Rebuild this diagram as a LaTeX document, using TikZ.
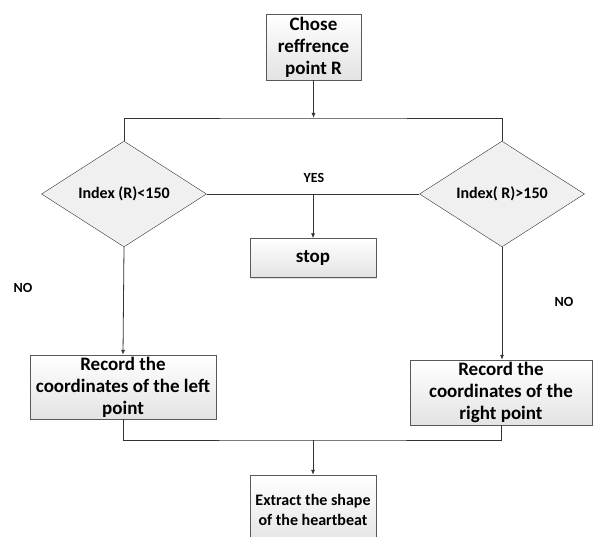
\documentclass[tikz,border=0pt]{standalone}
\usepackage{fontspec}
\setmainfont{Carlito}
\usetikzlibrary{shapes.geometric,arrows.meta,shadows}

\tikzset{
  box/.style={rectangle, draw=gray!70!black, thin, top color=white, bottom color=gray!22,
    drop shadow={shadow xshift=1.2pt, shadow yshift=-1.2pt, fill=gray!45},
    align=center, font=\bfseries\fontsize{19}{22}\selectfont, inner sep=0pt},
  test/.style={diamond, draw=gray!40!black, thin, fill=gray!12, inner sep=0pt,
    font=\bfseries\fontsize{16}{19}\selectfont},
  lbl/.style={font=\bfseries\fontsize{14}{16}\selectfont},
  line/.style={draw=black!80, line width=0.8pt},
  arr/.style={line, -{Latex[length=5pt,width=4pt]}}
}

\begin{document}
\begin{tikzpicture}[x=1pt,y=-1pt]
\useasboundingbox (0,0) rectangle (594,537);
\clip (0,0) rectangle (594,537);

\node[box, minimum width=95pt, minimum height=66pt] (start) at (313.5,47) {Chose\\reffrence\\point R};

\node[test, minimum width=165pt, minimum height=102pt] (less) at (124,194) {Index (R)<150};
\node[test, minimum width=165pt, minimum height=102pt] (more) at (502,194) {Index( R)>150};

\node[box, minimum width=126pt, minimum height=39pt] (stop) at (313,258) {stop};

\node[box, minimum width=186pt, minimum height=64pt] (left) at (123,387) {Record the\\coordinates of the left\\point};
\node[box, minimum width=182pt, minimum height=65pt] (right) at (501,392.5) {Record the\\coordinates of the\\right point};

\node[box, minimum width=126pt, minimum height=70pt, font=\bfseries\fontsize{16}{20}\selectfont] (extract) at (313,510) {Extract the shape\\of the heartbeat};

\node[lbl] (yes) at (314,178) {YES};
\node[lbl] (noleft) at (23,288) {NO};
\node[lbl] (noright) at (564,302) {NO};

% top bus
\coordinate (top) at (313.5,118);
\draw[arr] (start.south) -- (top);
\draw[line] (less.north) |- (top) -| (more.north);

% yes branch
\draw[line] (less.east) -- (more.west);
\draw[arr] (stop.north |- less.east) -- (stop.north);

% no branches
\draw[arr] (less.south) -- (left.north);
\draw[arr] (more.south) -- (right.north -| more.south);

% bottom bus
\coordinate (bottom) at (313,440);
\draw[line] (left.south) |- (bottom) -| (right.south);
\draw[arr] (bottom) -- (extract.north);

\end{tikzpicture}
\end{document}
